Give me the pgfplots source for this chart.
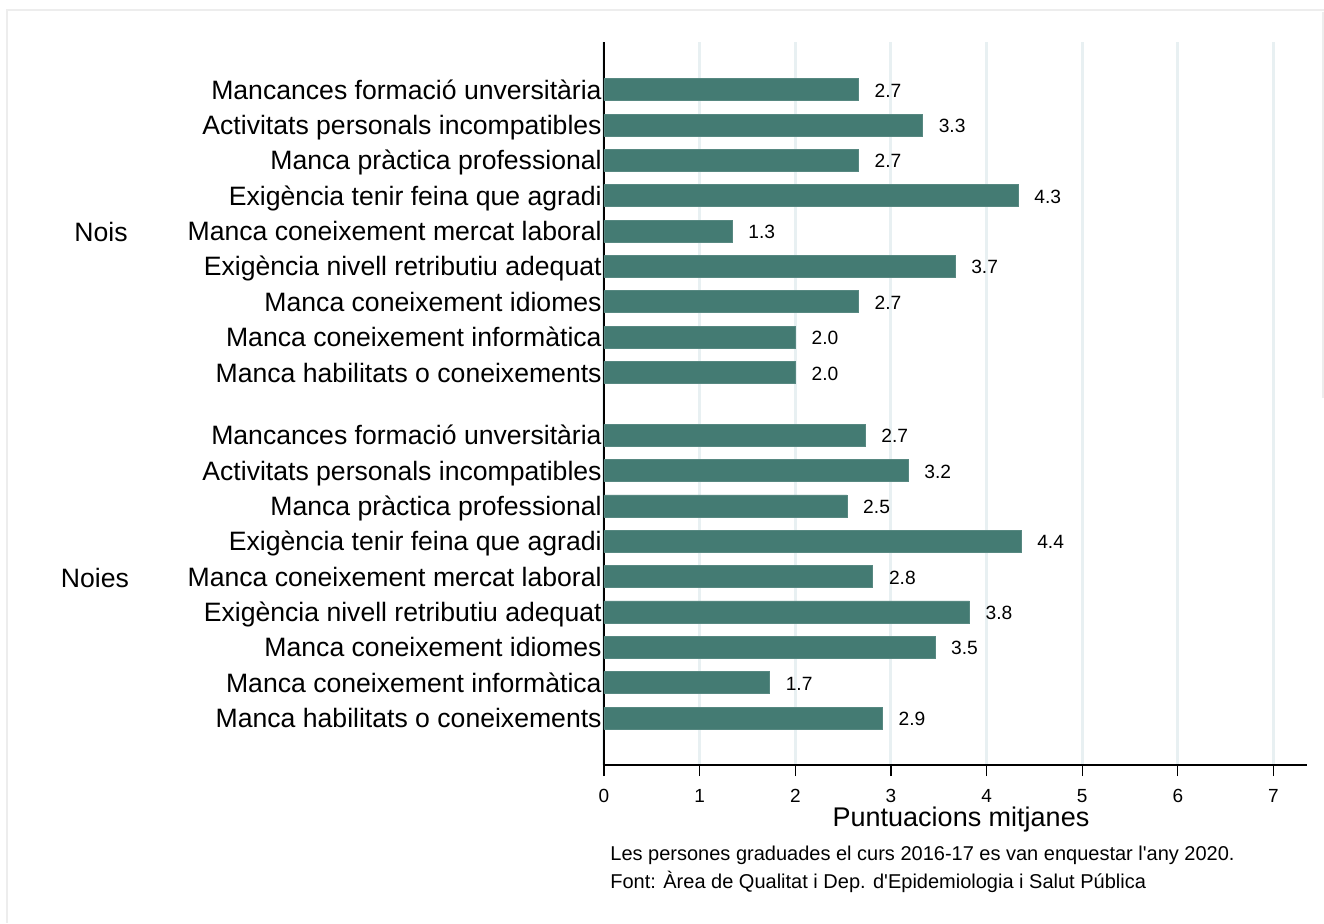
\documentclass[border=0pt]{standalone}
\usepackage{pgfplots}
\pgfplotsset{compat=1.18}
\usepackage{fontspec}
\setmainfont{Liberation Sans}[Ligatures=TeXOff]
\definecolor{barc}{HTML}{447B73}
\definecolor{gridc}{HTML}{E8F0F2}
\begin{document}
\begin{tikzpicture}
\useasboundingbox (0,0) rectangle (662pt,461.5pt);
\fill[white] (0,0) rectangle (662pt,461.5pt);
\begin{scope}[x=0.5pt,y=-0.5pt,yshift=461.5pt]
\draw[black!7, line width=1pt] (7,923) -- (7,10) -- (1324,10);
\draw[black!7, line width=1pt] (1323,12) -- (1323,398);
\end{scope}
\begin{axis}[
  at={(302pt,79pt)}, anchor=south west,
  scale only axis, width=351.5pt, height=361.5pt,
  xmin=0, xmax=7.35, ymin=-0.33, ymax=20.13,
  axis x line*=bottom, axis y line*=left,
  axis line style={-, black, line width=0.7pt},
  xtick={0,1,2,3,4,5,6,7},
  xtick align=outside, major tick length=5.5pt,
  x tick style={black, line width=0.6pt},
  y tick style={draw=none},
  xmajorgrids, major grid style={gridc, line width=1.5pt},
  /pgf/number format/assume math mode=true,
  xticklabel style={font=\fontsize{9.5}{11}\selectfont, yshift=-3pt},
  ytick={1,2,3,4,5,6,7,8,9,10.78,11.78,12.78,13.78,14.78,15.78,16.78,17.78,18.78},
  yticklabels={Manca habilitats o coneixements, Manca coneixement informàtica, Manca coneixement idiomes, Exigència nivell retributiu adequat, Manca coneixement mercat laboral, Exigència tenir feina que agradi, Manca pràctica professional, Activitats personals incompatibles, Mancances formació unversitària,
  Manca habilitats o coneixements, Manca coneixement informàtica, Manca coneixement idiomes, Exigència nivell retributiu adequat, Manca coneixement mercat laboral, Exigència tenir feina que agradi, Manca pràctica professional, Activitats personals incompatibles, Mancances formació unversitària},
  yticklabel style={font=\fontsize{13.3}{15}\selectfont, anchor=east, inner sep=0pt, xshift=-1pt, yshift=-1.1pt,
    text height=9.6pt, text depth=2.2pt},
  clip=false,
]
\addplot[xbar, fill=barc, draw=barc!90!white, line width=0.3pt, bar width=11pt,
  nodes near coords,
  nodes near coords style={font=\fontsize{9.6}{11}\selectfont, anchor=west, inner sep=0pt, xshift=8pt,
    text height=7pt, text depth=0pt, yshift=-0.3pt,
    /pgf/number format/.cd, fixed, precision=1, zerofill, assume math mode=true},
] coordinates {
  (2.91,1) (1.73,2) (3.46,3) (3.82,4) (2.81,5) (4.36,6) (2.54,7) (3.18,8) (2.73,9)
  (2.00,10.78) (2.00,11.78) (2.66,12.78) (3.67,13.78) (1.34,14.78) (4.33,15.78) (2.66,16.78) (3.33,17.78) (2.66,18.78)
};
\end{axis}
\begin{scope}[x=0.5pt,y=-0.5pt,yshift=461.5pt]
\node[font=\fontsize{13.3}{15}\selectfont] at (101,232) {Nois};
\node[font=\fontsize{13.3}{15}\selectfont] at (95,578) {Noies};
\node[font=\fontsize{13.5}{15}\selectfont] at (961,820) {Puntuacions mitjanes};
\node[font=\fontsize{10}{12}\selectfont, anchor=west, inner sep=0pt] at (610,855) {Les persones graduades el curs 2016-17 es van enquestar l'any 2020.};
\node[font=\fontsize{10}{12}\selectfont, anchor=west, inner sep=0pt] at (610,882) {Font: Àrea de Qualitat i Dep. d'Epidemiologia i Salut Pública};
\end{scope}
\end{tikzpicture}
\end{document}
